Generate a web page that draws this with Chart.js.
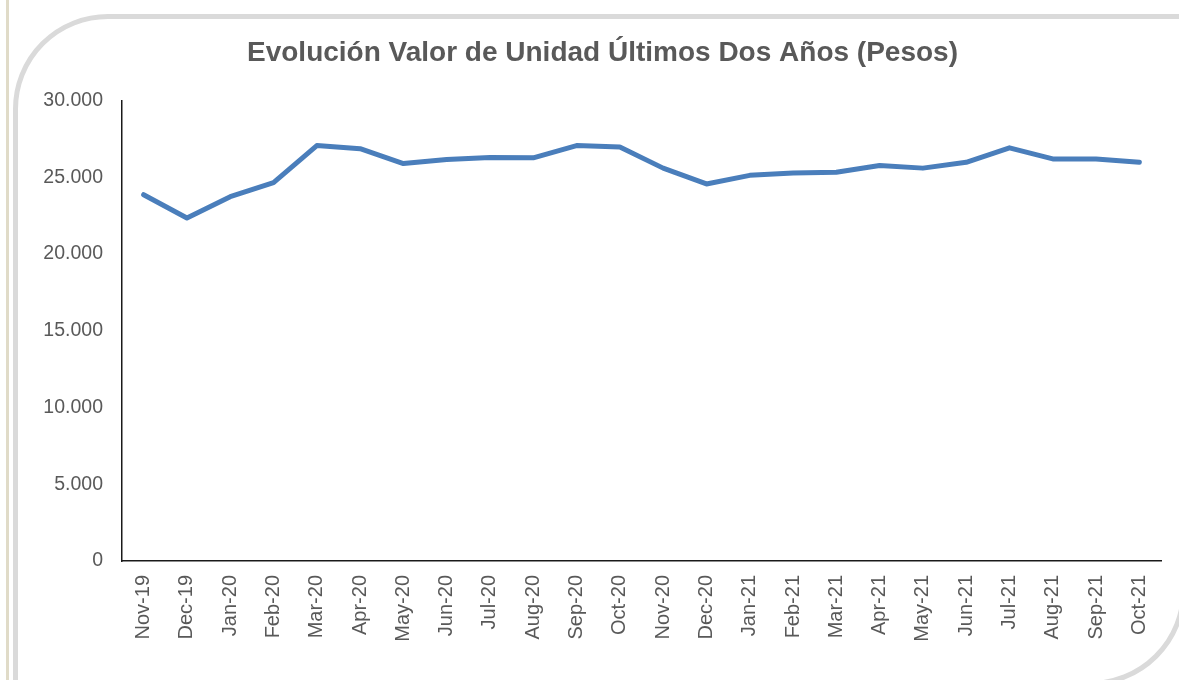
<!DOCTYPE html>
<html lang="es">
<head>
<meta charset="UTF-8">
<title>Evolución Valor de Unidad</title>
<script src="https://cdn.jsdelivr.net/npm/chart.js@4.4.1/dist/chart.umd.min.js"></script>
<style>
    html, body { margin: 0; padding: 0; background: #fff; overflow: hidden; }
    body { width: 1179px; height: 680px; position: relative; }
    .strip { position: absolute; left: 6px; top: 0; width: 3px; height: 680px; background: #e0dbc8; }
    .frame {
        position: absolute; left: 13px; top: 14px; width: 1173px; height: 672px;
        box-sizing: border-box; border: 5px solid #dadada;
        border-top-left-radius: 95px; border-bottom-right-radius: 96px;
    }
    #chart { position: absolute; left: 0; top: 0; }
</style>
</head>
<body>
<div class="strip"></div>
<div class="frame"></div>
<canvas id="chart" width="1179" height="680"></canvas>
<script>
// Datos del gráfico
const months = ['Nov-19', 'Dec-19', 'Jan-20', 'Feb-20', 'Mar-20', 'Apr-20', 'May-20', 'Jun-20',
    'Jul-20', 'Aug-20', 'Sep-20', 'Oct-20', 'Nov-20', 'Dec-20', 'Jan-21', 'Feb-21',
    'Mar-21', 'Apr-21', 'May-21', 'Jun-21', 'Jul-21', 'Aug-21', 'Sep-21', 'Oct-21'];
const unitValues = [23870, 22350, 23740, 24660, 27070, 26870, 25900, 26160,
    26290, 26270, 27070, 26980, 25600, 24570, 25130, 25290,
    25330, 25770, 25600, 25980, 26920, 26200, 26200, 25980];
const yTicks = [0, 5000, 10000, 15000, 20000, 25000, 30000];

const textColor = '#595959';
const fontFamily = "'Liberation Sans', Arial, sans-serif";

// 30000 -> "30.000"
function formatThousands(v) {
    return String(v).replace(/\B(?=(\d{3})+(?!\d))/g, '.');
}

new Chart(document.getElementById('chart'), {
    type: 'line',
    data: {
        labels: months,
        datasets: [{
            data: unitValues,
            borderColor: '#4a7ebb',
            borderWidth: 5,
            borderCapStyle: 'round',
            borderJoinStyle: 'round',
            pointRadius: 0,
            tension: 0,
            fill: false
        }]
    },
    options: {
        responsive: false,
        animation: false,
        // padding izquierdo para centrar el título como en el original
        layout: { padding: { left: 44, right: 18, top: 0, bottom: 0 } },
        plugins: {
            legend: { display: false },
            tooltip: { enabled: false },
            title: {
                display: true,
                text: 'Evolución Valor de Unidad Últimos Dos Años (Pesos)',
                color: textColor,
                font: { family: fontFamily, size: 28, weight: 'bold' },
                padding: { top: 36, bottom: 31 }
            }
        },
        scales: {
            x: {
                offset: true,
                grid: { display: false, drawTicks: false },
                border: { display: true, color: '#1a1a1a', width: 1.5 },
                ticks: {
                    color: textColor,
                    font: { family: fontFamily, size: 20 },
                    minRotation: 90,
                    maxRotation: 90,
                    padding: 14,
                    autoSkip: false
                },
                afterFit: scale => { scale.height = 119; }
            },
            y: {
                min: 0,
                max: 30000,
                afterBuildTicks: scale => { scale.ticks = yTicks.map(v => ({ value: v })); },
                grid: { display: false, drawTicks: false },
                border: { display: true, color: '#1a1a1a', width: 1.5 },
                ticks: {
                    color: textColor,
                    font: { family: fontFamily, size: 19.5 },
                    padding: 19,
                    callback: v => formatThousands(v)
                },
                afterFit: scale => { scale.width = 78; }
            }
        }
    }
});
</script>
</body>
</html>
